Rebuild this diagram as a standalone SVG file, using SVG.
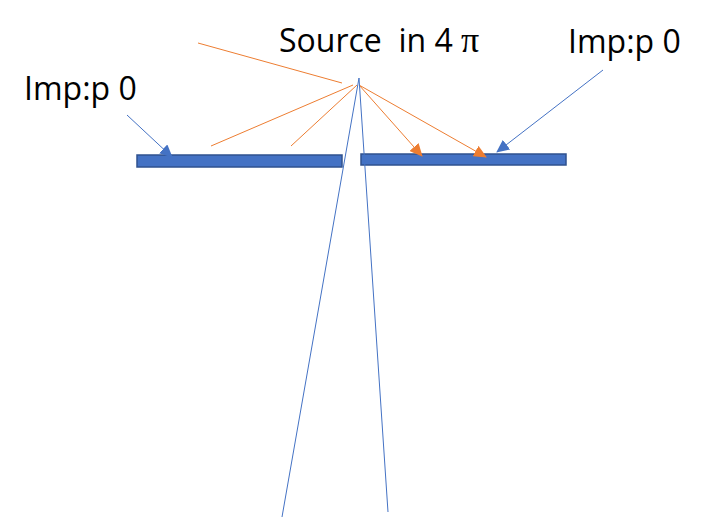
<svg xmlns="http://www.w3.org/2000/svg" width="707" height="518" viewBox="0 0 707 518">
<defs>
<marker id="ao" markerWidth="13" markerHeight="12" refX="12" refY="6" orient="auto" markerUnits="userSpaceOnUse"><path d="M0,0 L13,6 L0,12 Z" fill="#ED7D31"/></marker>
<marker id="ab" markerWidth="13" markerHeight="12" refX="12" refY="6" orient="auto" markerUnits="userSpaceOnUse"><path d="M0,0 L13,6 L0,12 Z" fill="#4472C4"/></marker>
</defs>
<style>
.t{font-family:"Open Sans","Liberation Sans",sans-serif;font-size:32px;fill:#000;white-space:pre}
.o{stroke:#ED7D31;stroke-width:1;fill:none}
.b{stroke:#4472C4;stroke-width:1;fill:none}
.plate{fill:#4472C4;stroke:#2F528F;stroke-width:1.5}
</style>
<rect width="707" height="518" fill="#fff"/>
<g id="plate-left"><rect class="plate" x="137" y="155" width="205" height="12"/></g>
<g id="plate-right"><rect class="plate" x="361" y="154" width="205" height="11"/></g>
<g id="label-source"><text class="t" x="279" y="52" xml:space="preserve">Source  in 4 <tspan font-family="'Liberation Serif',serif" font-size="36">π</tspan></text></g>
<g id="label-imp-right"><text class="t" x="568" y="53">Imp:p 0</text></g>
<g id="label-imp-left"><text class="t" x="24" y="100">Imp:p 0</text></g>
<g id="connectors">
<line class="o" x1="198" y1="43" x2="342" y2="83"/>
<line class="o" x1="353" y1="85" x2="211" y2="146"/>
<line class="o" x1="357" y1="85" x2="291" y2="146"/>
<line class="o" x1="359" y1="85" x2="422" y2="156" marker-end="url(#ao)"/>
<line class="o" x1="359" y1="85" x2="486" y2="157" marker-end="url(#ao)"/>
<line class="b" x1="359" y1="78" x2="282" y2="517"/>
<line class="b" x1="359" y1="78" x2="388" y2="512"/>
<line class="b" x1="127" y1="115" x2="172" y2="157" marker-end="url(#ab)"/>
<line class="b" x1="603" y1="70" x2="497" y2="152" marker-end="url(#ab)"/>
</g>
</svg>
